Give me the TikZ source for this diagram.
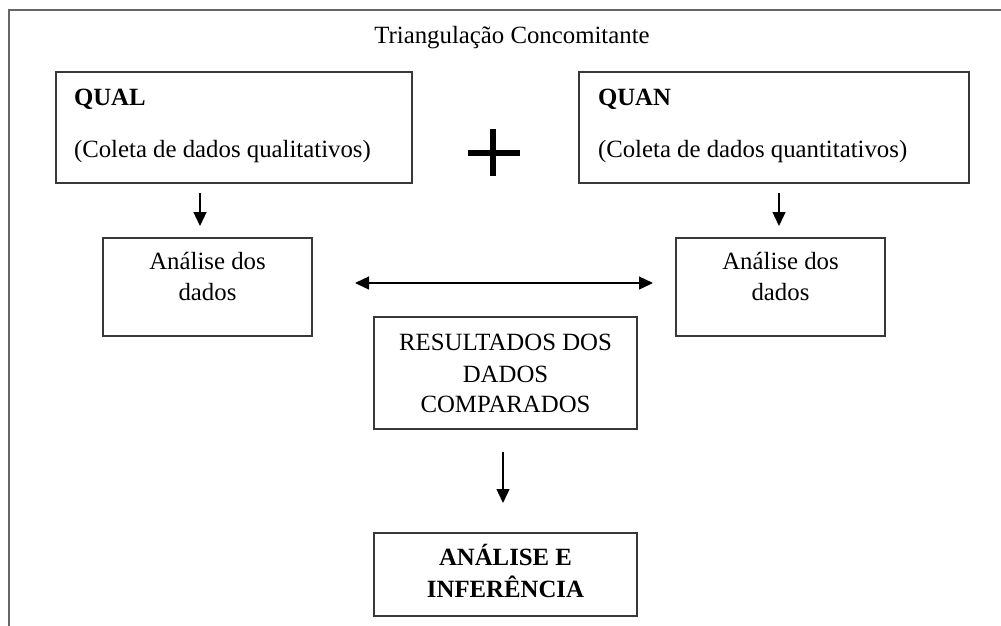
\documentclass[tikz,border=0pt]{standalone}
\usepackage{fontspec}
\setmainfont{Liberation Serif}
\usetikzlibrary{arrows.meta}
\begin{document}
\begin{tikzpicture}[x=1pt,y=-1pt,
  every node/.style={inner sep=0pt, outer sep=0pt},
  box/.style={draw=black!78, line width=1.4pt, rectangle},
  txt/.style={font=\fontsize{24.8}{31.5}\selectfont, text=black},
  arr/.style={draw=black, line width=1.3pt, -{Triangle[length=14pt,width=13pt]}},
  darr/.style={draw=black, line width=1.3pt, {Triangle[length=14pt,width=13pt]}-{Triangle[length=14pt,width=13pt]}},
  frame/.style={draw=black!60, line width=1.4pt}]
\useasboundingbox (0,0) rectangle (1001,625);
\fill[white] (0,0) rectangle (1001,625);
% outer frame (only top and left edges visible)
\coordinate (ftr) at (1003,10);
\coordinate (ftl) at (9,10);
\coordinate (fbl) at (9,627);
\draw[frame] (ftr) -- (ftl) -- (fbl);
% title
\node[txt, anchor=base] (title) at (512,43) {Triangulação Concomitante};
% boxes
\node[box, minimum width=356pt, minimum height=111pt] (qual) at (234,127.5) {};
\node[box, minimum width=390pt, minimum height=111pt] (quan) at (774,127.5) {};
\node[box, minimum width=209pt, minimum height=98pt] (anl) at (207.5,287) {};
\node[box, minimum width=209pt, minimum height=98pt] (anr) at (780.5,287) {};
\node[box, minimum width=263pt, minimum height=112pt] (res) at (505.5,373) {};
\node[box, minimum width=263pt, minimum height=83pt] (inf) at (505.5,574.5) {};
% texts
\node[txt, anchor=base west, font=\fontsize{24.8}{31.5}\selectfont\bfseries] (qualt) at (74,105) {QUAL};
\node[txt, anchor=base west] (qualc) at (74,157) {(Coleta de dados qualitativos)};
\node[txt, anchor=base west, font=\fontsize{24.8}{31.5}\selectfont\bfseries] (quant) at (598,105) {QUAN};
\node[txt, anchor=base west] (quanc) at (598,157) {(Coleta de dados quantitativos)};
\node[txt, anchor=base] (anl1) at (207.5,269) {Análise dos};
\node[txt, anchor=base] (anl2) at (207.5,300) {dados};
\node[txt, anchor=base] (anr1) at (780.5,269) {Análise dos};
\node[txt, anchor=base] (anr2) at (780.5,300) {dados};
\node[txt, anchor=base] (res1) at (505.5,350) {RESULTADOS DOS};
\node[txt, anchor=base] (res2) at (505.5,382) {DADOS};
\node[txt, anchor=base] (res3) at (505.5,412) {COMPARADOS};
\node[txt, anchor=base, font=\fontsize{24.8}{31.5}\selectfont\bfseries] (inf1) at (505.5,565) {ANÁLISE E};
\node[txt, anchor=base, font=\fontsize{24.8}{31.5}\selectfont\bfseries] (inf2) at (505.5,597) {INFERÊNCIA};
% plus sign
\coordinate (plus) at (493,153);
\draw[line width=6.5pt] ([xshift=-25pt]plus) -- ([xshift=27pt]plus);
\draw[line width=6.5pt] ([yshift=24pt]plus) -- ([yshift=-23pt]plus);
% connectors
\draw[arr] ([xshift=-34pt,yshift=-10pt]qual.south) -- ([xshift=-7.5pt,yshift=12pt]anl.north);
\draw[arr] ([xshift=5pt,yshift=-10pt]quan.south) -- ([xshift=-1.5pt,yshift=12pt]anr.north);
\draw[darr] ([xshift=43pt,yshift=4pt]anl.east) -- ([xshift=-23pt,yshift=4pt]anr.west);
\draw[arr] ([xshift=-2.5pt,yshift=-23pt]res.south) -- ([xshift=-2.5pt,yshift=30pt]inf.north);
\end{tikzpicture}
\end{document}
